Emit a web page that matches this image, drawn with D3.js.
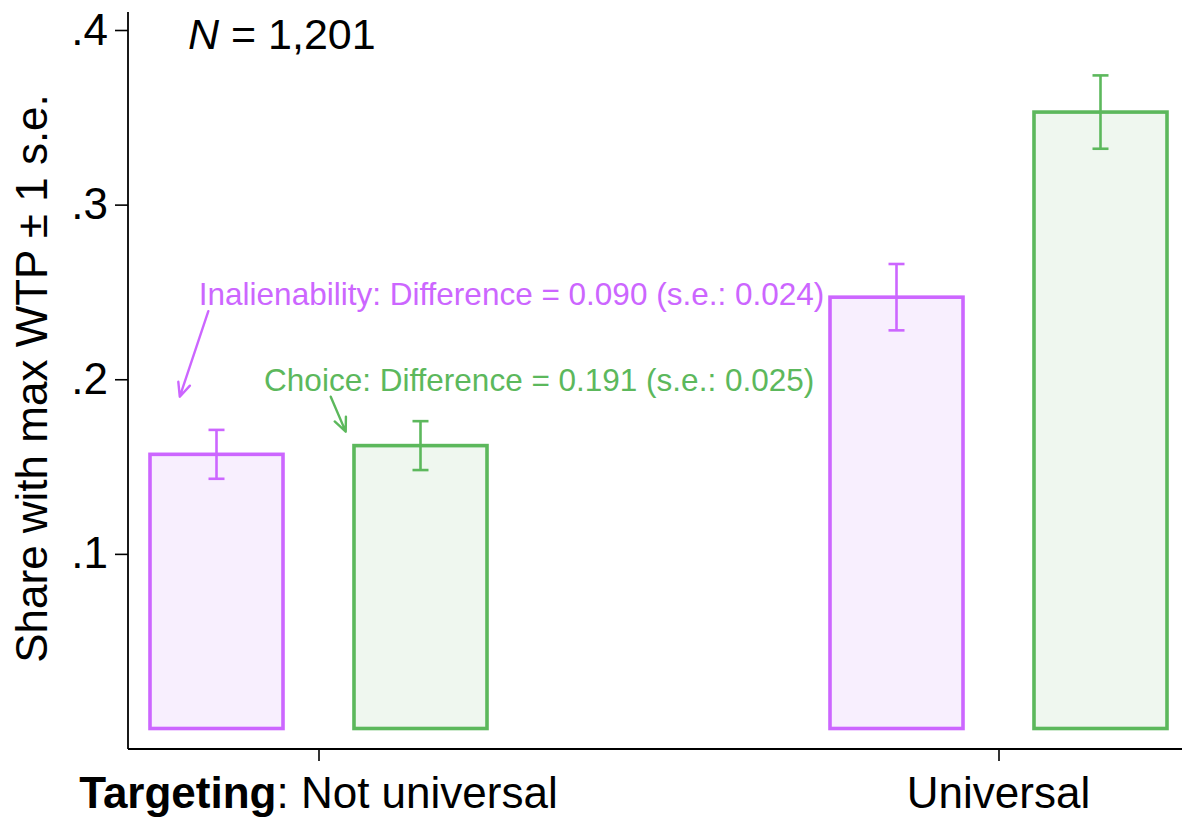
<!DOCTYPE html>
<html>
<head>
<meta charset="utf-8">
<script src="https://cdn.jsdelivr.net/npm/d3@7"></script>
<style>
  body { margin: 0; background: #fff; }
  svg { display: block; font-family: "Liberation Sans", Arial, sans-serif; }
</style>
</head>
<body>
<div id="chart"></div>
<script>
// data
var groups = ['Not universal', 'Universal'];
var series = ['Inalienability', 'Choice'];
var inalienMean = [0.157, 0.247];
var inalienSE = [0.014, 0.019];
var choiceMean = [0.162, 0.353];
var choiceSE = [0.014, 0.021];
var yTicks = [0.1, 0.2, 0.3, 0.4];
var nLabel = '1,201';

// annotation notes: x in group units (0 = first group, 1 = second), y in data units
var noteText = ['Inalienability: Difference = 0.090 (s.e.: 0.024)', 'Choice: Difference = 0.191 (s.e.: 0.025)'];
var noteX = [-0.176, -0.080];
var noteY = [0.2425, 0.193];
var arrowFromX = [-0.162, 0.018];
var arrowFromY = [0.239, 0.190];
var arrowToX = [-0.204, 0.040];
var arrowToY = [0.190, 0.170];

var width = 1182;
var height = 820;
var strokeColors = ['#cc66ff', '#5cb85c'];
var fillColors = ['#f8effe', '#eff7ef'];

var rows = [];
groups.forEach(function(g, i) {
    rows.push({group: g, series: series[0], mean: inalienMean[i], se: inalienSE[i], k: 0});
    rows.push({group: g, series: series[1], mean: choiceMean[i], se: choiceSE[i], k: 1});
});

var svg = d3.select('#chart').append('svg')
    .attr('width', width)
    .attr('height', height);

var plotLeft = 128, plotRight = 1182, plotTop = 12, plotBottom = 749;

var yScale = d3.scaleLinear()
    .domain([0, 0.4])
    .range([728.5, 30]);

var xGroup = d3.scalePoint()
    .domain(groups)
    .range([318.5, 998.5]);

var xInner = d3.scaleBand()
    .domain(series)
    .range([-168.5, 168.5])
    .paddingInner(0.348);

var xUnits = d3.scaleLinear()
    .domain([0, 1])
    .range([xGroup(groups[0]), xGroup(groups[1])]);

// y axis
var yAxis = d3.axisLeft(yScale)
    .tickValues(yTicks)
    .tickSize(13)
    .tickSizeOuter(0)
    .tickPadding(7)
    .tickFormat(function(d) { return d3.format('.1f')(d).replace(/^0/, ''); });

var yG = svg.append('g')
    .attr('transform', 'translate(' + plotLeft + ',0)')
    .call(yAxis);
yG.select('.domain').remove();
yG.selectAll('line').attr('stroke', '#000').attr('stroke-width', 1.6);
yG.selectAll('text').style('font-size', '44px').attr('fill', '#000');

svg.append('line')
    .attr('x1', plotLeft).attr('x2', plotLeft)
    .attr('y1', plotTop).attr('y2', plotBottom)
    .attr('stroke', '#000').attr('stroke-width', 1.8);

// x axis
var xAxis = d3.axisBottom(xGroup)
    .tickSize(12)
    .tickSizeOuter(0)
    .tickFormat('');

var xG = svg.append('g')
    .attr('transform', 'translate(0,' + plotBottom + ')')
    .call(xAxis);
xG.select('.domain').remove();
xG.selectAll('line').attr('stroke', '#000').attr('stroke-width', 1.6);

svg.append('line')
    .attr('x1', plotLeft).attr('x2', plotRight)
    .attr('y1', plotBottom).attr('y2', plotBottom)
    .attr('stroke', '#000').attr('stroke-width', 1.8);

var xLabels = svg.selectAll('text.xlab')
    .data(groups)
    .enter()
    .append('text')
    .attr('class', 'xlab')
    .attr('x', function(d) { return xGroup(d); })
    .attr('y', 808)
    .attr('text-anchor', 'middle')
    .style('font-size', '44px');

xLabels.each(function(d, i) {
    var t = d3.select(this);
    if (i === 0) {
        t.append('tspan').style('font-weight', 'bold').text('Targeting');
        t.append('tspan').text(': ' + d);
    } else {
        t.text(d);
    }
});

// bars
svg.selectAll('rect.bar')
    .data(rows)
    .enter()
    .append('rect')
    .attr('class', 'bar')
    .attr('x', function(d) { return xGroup(d.group) + xInner(d.series); })
    .attr('width', xInner.bandwidth())
    .attr('y', function(d) { return yScale(d.mean); })
    .attr('height', function(d) { return yScale(0) - yScale(d.mean); })
    .attr('fill', function(d) { return fillColors[d.k]; })
    .attr('stroke', function(d) { return strokeColors[d.k]; })
    .attr('stroke-width', 3.6);

// error bars
var capHalf = 8;
var errs = svg.selectAll('g.err')
    .data(rows)
    .enter()
    .append('g')
    .attr('class', 'err')
    .attr('stroke', function(d) { return strokeColors[d.k]; })
    .attr('stroke-width', 2.6);

function cx(d) { return xGroup(d.group) + xInner(d.series) + xInner.bandwidth() / 2; }

errs.append('line')
    .attr('x1', cx).attr('x2', cx)
    .attr('y1', function(d) { return yScale(d.mean + d.se); })
    .attr('y2', function(d) { return yScale(d.mean - d.se); });
errs.append('line')
    .attr('x1', function(d) { return cx(d) - capHalf; })
    .attr('x2', function(d) { return cx(d) + capHalf; })
    .attr('y1', function(d) { return yScale(d.mean + d.se); })
    .attr('y2', function(d) { return yScale(d.mean + d.se); });
errs.append('line')
    .attr('x1', function(d) { return cx(d) - capHalf; })
    .attr('x2', function(d) { return cx(d) + capHalf; })
    .attr('y1', function(d) { return yScale(d.mean - d.se); })
    .attr('y2', function(d) { return yScale(d.mean - d.se); });

// notes with arrows
noteText.forEach(function(txt, i) {
    svg.append('text')
        .attr('x', xUnits(noteX[i]))
        .attr('y', yScale(noteY[i]))
        .attr('fill', strokeColors[i])
        .style('font-size', '31.5px')
        .text(txt);

    var x1 = xUnits(arrowFromX[i]), y1 = yScale(arrowFromY[i]);
    var x2 = xUnits(arrowToX[i]), y2 = yScale(arrowToY[i]);
    var ang = Math.atan2(y2 - y1, x2 - x1);
    var headLen = 15, spread = 0.42;
    var path = d3.path();
    path.moveTo(x1, y1);
    path.lineTo(x2, y2);
    path.moveTo(x2 - headLen * Math.cos(ang - spread), y2 - headLen * Math.sin(ang - spread));
    path.lineTo(x2, y2);
    path.lineTo(x2 - headLen * Math.cos(ang + spread), y2 - headLen * Math.sin(ang + spread));

    svg.append('path')
        .attr('d', path.toString())
        .attr('fill', 'none')
        .attr('stroke', strokeColors[i])
        .attr('stroke-width', 2.4)
        .attr('stroke-linecap', 'round')
        .attr('stroke-linejoin', 'round');
});

// y title
svg.append('text')
    .attr('transform', 'rotate(-90)')
    .attr('x', -378.5)
    .attr('y', 47)
    .attr('text-anchor', 'middle')
    .style('font-size', '44px')
    .text('Share with max WTP \u00b1 1 s.e.');

// sample size note
var nText = svg.append('text')
    .attr('x', 188)
    .attr('y', 49)
    .style('font-size', '43px');
nText.append('tspan').style('font-style', 'italic').text('N');
nText.append('tspan').text(' = ' + nLabel);
</script>
</body>
</html>
